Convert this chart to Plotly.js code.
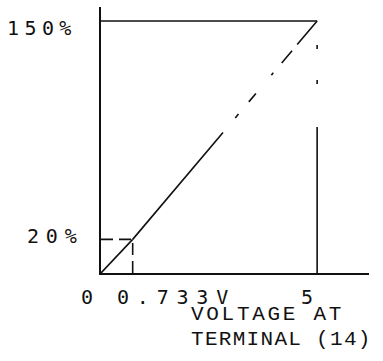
<!DOCTYPE html>
<html>
<head>
<meta charset="utf-8">
<script src="https://cdn.plot.ly/plotly-3.0.1.min.js"></script>
<style>
html,body{margin:0;padding:0;background:#fff;}
#chart{width:383px;height:361px;}
</style>
</head>
<body>
<div id="chart"></div>
<script>
// ---- data ----
const xTickVals = [0, 0.733, 5];
const xTickText = ["0", "0.733V", "5"];
const yTickVals = [20, 150];
const yTickText = ["20%", "150%"];
const kneeX = 0.733, kneeY = 20;
const fullX = 5, fullY = 150;
const titleLines = ["VOLTAGE AT", "TERMINAL (14)"];

const black = "#111";
const traces = [
  // solid start of transfer line
  {x: [0, kneeX], y: [0, kneeY], mode: "lines", line: {color: black, width: 1.6}},
  // broken upper part of transfer line
  {x: [kneeX, fullX], y: [kneeY, fullY], mode: "lines",
   line: {color: black, width: 1.6, dash: "140px,19px,5px,16px,11px,24px,3px,13px,16px,8px,40px"}},
  // 150% level
  {x: [0, fullX], y: [fullY, fullY], mode: "lines", line: {color: black, width: 1.6}},
  // vertical at 5V
  {x: [fullX, fullX], y: [0, fullY], mode: "lines",
   line: {color: black, width: 1.6, dash: "146px,43px,4px,31px,4px,40px"}},
  // 20% guides
  {x: [0, kneeX], y: [kneeY, kneeY], mode: "lines", line: {color: black, width: 1.6, dash: "12px,6px"}},
  {x: [kneeX, kneeX], y: [0, kneeY], mode: "lines", line: {color: black, width: 1.6, dash: "12px,6px"}}
];

const tickFont = {family: "DejaVu Sans Mono", size: 20, color: black};
const titleFont = {family: "Liberation Mono", size: 21, color: black};

const annotations = [];
const spacing = [];
// x tick labels
const xShift = [-22, -18, -18];
const xSp = [0, 7.8, 0];
xTickVals.forEach((v, i) => {
  annotations.push({x: v, y: 0, xref: "x", yref: "y", text: xTickText[i], showarrow: false,
    xanchor: "left", yanchor: "middle", xshift: xShift[i], yshift: -24, font: tickFont});
  spacing.push(xSp[i]);
});
// y tick labels
const yShiftX = [-76, -96];
const yShiftY = [3, -7];
const ySp = [6.8, 5.4];
yTickVals.forEach((v, i) => {
  annotations.push({x: 0, y: v, xref: "x", yref: "y", text: yTickText[i], showarrow: false,
    xanchor: "left", yanchor: "middle", xshift: yShiftX[i], yshift: yShiftY[i], font: tickFont});
  spacing.push(ySp[i]);
});
// axis title lines
const tYShift = [-41, -66];
const tSp = [2.7, 1.3];
titleLines.forEach((t, i) => {
  annotations.push({x: 0, y: 0, xref: "x", yref: "y", text: t, showarrow: false,
    xanchor: "left", yanchor: "middle", xshift: 88, yshift: tYShift[i], font: titleFont});
  spacing.push(tSp[i]);
});

const layout = {
  width: 383, height: 361,
  margin: {l: 101, r: 14, t: 7, b: 88},
  paper_bgcolor: "#fff", plot_bgcolor: "#fff",
  showlegend: false,
  xaxis: {range: [0, 6.2], showline: true, linewidth: 2, linecolor: black, showgrid: false,
          zeroline: false, showticklabels: false, ticks: "", fixedrange: true},
  yaxis: {range: [0, 158.3], showline: true, linewidth: 2, linecolor: black, showgrid: false,
          zeroline: false, showticklabels: false, ticks: "", fixedrange: true},
  annotations: annotations
};

Plotly.newPlot("chart", traces, layout, {displayModeBar: false, staticPlot: true}).then(() => {
  document.querySelectorAll("#chart .annotation-text").forEach((el, i) => {
    const w0 = el.getComputedTextLength();
    const x0 = parseFloat(el.getAttribute("x")) || 0;
    el.setAttribute("text-anchor", "start");
    el.setAttribute("x", x0 - w0 / 2);
    el.style.letterSpacing = spacing[i] + "px";
  });
});
</script>
</body>
</html>
